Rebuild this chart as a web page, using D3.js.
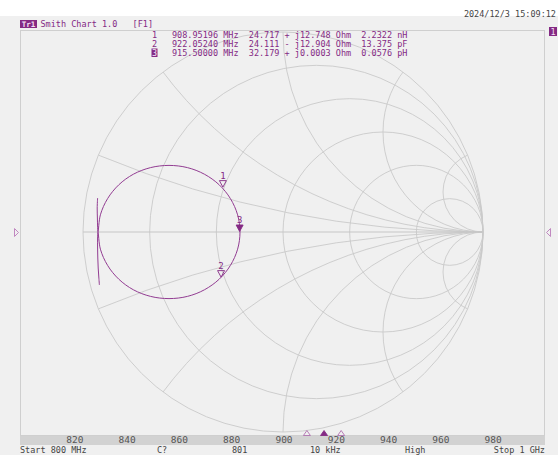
<!DOCTYPE html>
<html>
<head>
<meta charset="utf-8">
<script src="https://cdn.jsdelivr.net/npm/d3@7"></script>
<style>
  html, body { margin: 0; padding: 0; background: #ffffff; }
  svg { display: block; }
  text { font-family: "DejaVu Sans Mono", monospace; }
</style>
</head>
<body>
<svg id="chart" width="558" height="455"></svg>
<script>
// smith chart grid values (normalised)
var rGrid = [0.2, 0.5, 1, 2, 5];
var xGrid = [0.2, 0.5, 1, 2, 5];

// trace, reflection coefficient (800 MHz -> 1 GHz)
var traceRe = [-0.927, -0.929, -0.928, -0.927, -0.925, -0.913, -0.877, -0.821, -0.748, -0.662,
               -0.570, -0.478, -0.393, -0.319, -0.263, -0.227, -0.215, -0.227, -0.263, -0.319,
               -0.393, -0.478, -0.570, -0.662, -0.748, -0.821, -0.877, -0.913, -0.925, -0.927,
               -0.927, -0.926, -0.924, -0.921, -0.918];
var traceIm = [0.170, 0.120, 0.070, 0.030, 0.000, 0.086, 0.167, 0.236, 0.289, 0.322,
               0.333, 0.322, 0.289, 0.236, 0.167, 0.086, 0.000, -0.086, -0.167, -0.236,
               -0.289, -0.322, -0.333, -0.322, -0.289, -0.236, -0.167, -0.086, 0.000, -0.030,
               -0.080, -0.130, -0.180, -0.225, -0.265];

// markers
var markerNum = [1, 2, 3];
var markerFreq = ["908.95196", "922.05240", "915.50000"];
var markerR = [24.717, 24.111, 32.179];
var markerX = [12.748, -12.904, 0.0003];
var markerXText = ["12.748", "12.904", "0.0003"];
var markerEq = ["2.2322 nH", "13.375 pF", "0.0576 pH"];
var activeMarker = 3;
var z0 = 50;

var freqTicks = [820, 840, 860, 880, 900, 920, 940, 960, 980];
var statusText = ["Start 800 MHz", "C?", "801", "10 kHz", "High", "Stop 1 GHz"];
var statusX = [20, 157, 232, 310, 405, 545];

var purple = "#842a84", traceCol = "#923c92", gridCol = "#c9c9c9";

var svg = d3.select("#chart");
var cx = 283, cy = 232, R = 200;
var gx = d3.scaleLinear().domain([-1, 1]).range([cx - R, cx + R]);
var gy = d3.scaleLinear().domain([-1, 1]).range([cy + R, cy - R]);
var fx = d3.scaleLinear().domain([800, 1000]).range([22, 545]);

// background
svg.append("rect").attr("x", 0).attr("y", 16).attr("width", 558).attr("height", 439).attr("fill", "#f0f0f0");
svg.append("rect").attr("x", 20.5).attr("y", 30.5).attr("width", 524).attr("height", 405)
  .attr("fill", "#f0f0f0").attr("stroke", "#cfcfcf");

// grid
svg.append("clipPath").attr("id", "unit").append("circle")
  .attr("cx", cx).attr("cy", cy).attr("r", R);
var grid = svg.append("g").attr("fill", "none").attr("stroke", gridCol).attr("stroke-width", 0.9);
grid.append("circle").attr("cx", cx).attr("cy", cy).attr("r", R);
rGrid.forEach(function(r) {
  grid.append("circle")
    .attr("cx", gx(r / (1 + r))).attr("cy", gy(0))
    .attr("r", gx(1 / (1 + r)) - gx(0));
});
var arcs = grid.append("g").attr("clip-path", "url(#unit)");
xGrid.forEach(function(x) {
  [1, -1].forEach(function(s) {
    arcs.append("circle")
      .attr("cx", gx(1)).attr("cy", gy(s / x))
      .attr("r", gx(1 / x) - gx(0));
  });
});
grid.append("line").attr("x1", gx(-1)).attr("x2", gx(1)).attr("y1", gy(0)).attr("y2", gy(0))
  .attr("stroke", "#c6c6c6").attr("stroke-width", 1.1);

// trace
var line = d3.line().x(function(d) { return gx(d[0]); }).y(function(d) { return gy(d[1]); })
  .curve(d3.curveCatmullRom);
svg.append("path").attr("d", line(d3.zip(traceRe, traceIm)))
  .attr("fill", "none").attr("stroke", traceCol).attr("stroke-width", 1);

// markers on the chart
markerNum.forEach(function(n, i) {
  var zr = markerR[i] / z0, zi = markerX[i] / z0;
  var den = (zr + 1) * (zr + 1) + zi * zi;
  var re = ((zr - 1) * (zr + 1) + zi * zi) / den;
  var im = (zi * (zr + 1) - (zr - 1) * zi) / den;
  var px = gx(re), py = gy(im);
  var on = n === activeMarker;
  svg.append("path")
    .attr("d", "M" + (px - 3.5) + "," + (py - 7) + "L" + (px + 3.5) + "," + (py - 7) + "L" + px + "," + (py - 0.5) + "Z")
    .attr("fill", on ? purple : "none").attr("stroke", purple).attr("stroke-width", 0.9);
  svg.append("text").attr("x", px).attr("y", py - 9).attr("text-anchor", "middle")
    .attr("font-size", 9).attr("fill", purple).text(n);
});

// frequency bar
svg.append("rect").attr("x", 20).attr("y", 436).attr("width", 525).attr("height", 9).attr("fill", "#d2d2d2");
var ax = svg.append("g").attr("transform", "translate(0,436)")
  .call(d3.axisBottom(fx).tickValues(freqTicks).tickSize(0).tickPadding(0));
ax.select(".domain").remove();
ax.selectAll("text").attr("font-family", "DejaVu Sans, sans-serif").attr("font-size", 9.5)
  .attr("fill", "#555").attr("dy", "0.72em").attr("y", 0);

markerNum.forEach(function(n, i) {
  var px = fx(+markerFreq[i]);
  var on = n === activeMarker;
  svg.append("path")
    .attr("d", "M" + (px - 3.5) + ",435.5L" + (px + 3.5) + ",435.5L" + px + ",430.5Z")
    .attr("fill", on ? purple : "none").attr("stroke", on ? purple : "#b070b0").attr("stroke-width", 0.9);
});

// side triangles
svg.append("path").attr("d", "M14.5,228.5L18.5,232.5L14.5,236.5Z")
  .attr("fill", "none").attr("stroke", "#c088c0").attr("stroke-width", 1);
svg.append("path").attr("d", "M550.5,228.5L546.5,232.5L550.5,236.5Z")
  .attr("fill", "none").attr("stroke", "#c088c0").attr("stroke-width", 1);

// status line
statusText.forEach(function(t, i) {
  svg.append("text").attr("x", statusX[i]).attr("y", 453)
    .attr("text-anchor", i === statusText.length - 1 ? "end" : "start")
    .attr("font-size", 8.5).attr("fill", "#444").text(t);
});

// header
svg.append("text").attr("x", 556).attr("y", 17).attr("text-anchor", "end")
  .attr("font-size", 8.5).attr("fill", "#444").text("2024/12/3 15:09:12");
svg.append("rect").attr("x", 20).attr("y", 20).attr("width", 17).attr("height", 8).attr("fill", purple);
svg.append("text").attr("x", 28.5).attr("y", 27).attr("text-anchor", "middle")
  .attr("font-size", 7.5).attr("font-weight", "bold").attr("fill", "#f4e0f4").text("Tr1");
svg.append("text").attr("x", 40.5).attr("y", 27).attr("xml:space", "preserve")
  .attr("font-size", 8.5).attr("fill", purple).text("Smith Chart 1.0   [F1]");
svg.append("rect").attr("x", 549).attr("y", 27).attr("width", 8).attr("height", 9).attr("fill", purple);
svg.append("text").attr("x", 553).attr("y", 34.5).attr("text-anchor", "middle")
  .attr("font-size", 8.5).attr("fill", "#f4e0f4").text("1");

// marker table
markerNum.forEach(function(n, i) {
  var y = 37.5 + i * 9;
  if (n === activeMarker) {
    svg.append("rect").attr("x", 151.5).attr("y", y - 7).attr("width", 6).attr("height", 8.5).attr("fill", purple);
  }
  svg.append("text").attr("x", 154.5).attr("y", y).attr("text-anchor", "middle")
    .attr("font-size", 8.5).attr("fill", n === activeMarker ? "#f4e0f4" : purple).text(n);
  var s = markerFreq[i] + " MHz  " + markerR[i].toFixed(3) + " " + (markerX[i] < 0 ? "-" : "+") +
    " j" + markerXText[i] + " Ohm  " + markerEq[i];
  svg.append("text").attr("x", 172).attr("y", y).attr("xml:space", "preserve")
    .attr("font-size", 8.5).attr("fill", purple).text(s);
});
</script>
</body>
</html>
